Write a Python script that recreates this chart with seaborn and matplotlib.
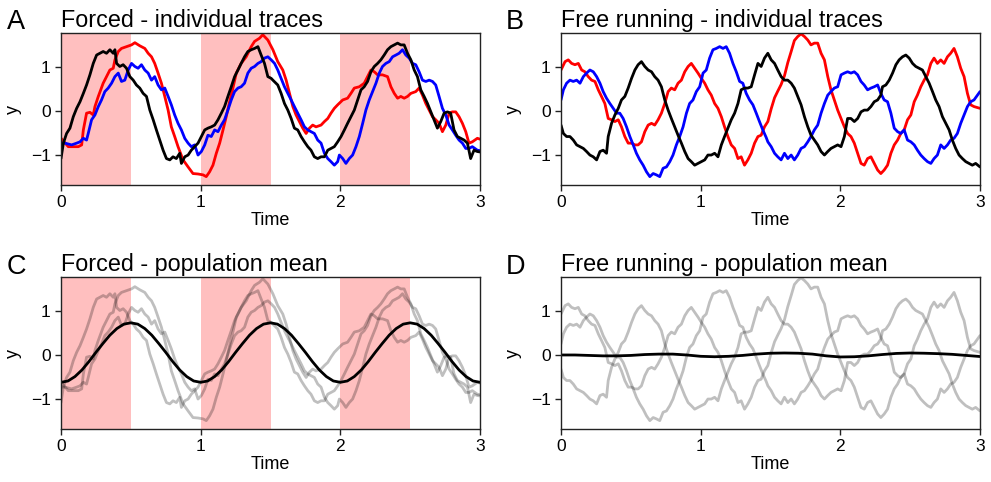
import numpy as np
import pandas as pd
import matplotlib
matplotlib.use("Agg")
import matplotlib.pyplot as plt
import seaborn as sns

# ---------------- data ----------------
forced_red_t = [0, 0.052, 0.124, 0.148, 0.16, 0.183, 0.207, 0.231, 0.243, 0.267, 0.302, 0.326, 0.35, 0.374,
                0.386, 0.41, 0.433, 0.469, 0.505, 0.529, 0.564, 0.6, 0.624, 0.648, 0.671, 0.695, 0.719, 0.743,
                0.767, 0.79, 0.814, 0.838, 0.874, 0.91, 0.945, 0.981, 1.017, 1.04, 1.064, 1.088, 1.112, 1.136,
                1.16, 1.183, 1.207, 1.231, 1.255, 1.29, 1.326, 1.362, 1.386, 1.421, 1.445, 1.481, 1.517, 1.552,
                1.588, 1.612, 1.636, 1.66, 1.683, 1.707, 1.731, 1.755, 1.779, 1.802, 1.826, 1.862, 1.886, 1.91,
                1.933, 1.957, 1.981, 2.017, 2.052, 2.076, 2.1, 2.136, 2.171, 2.195, 2.219, 2.243, 2.267, 2.302,
                2.338, 2.362, 2.386, 2.41, 2.433, 2.457, 2.481, 2.505, 2.54, 2.564, 2.588, 2.612, 2.636, 2.66,
                2.683, 2.707, 2.731, 2.755, 2.779, 2.802, 2.826, 2.85, 2.874, 2.898, 2.921, 2.945, 2.981, 3.0]
forced_red_y = [-0.62, -0.81, -0.81, -0.77, -0.43, -0.05, -0.03, -0.09, 0.1, 0.33, 0.63, 0.78, 0.93, 0.97,
                1.16, 1.35, 1.42, 1.46, 1.5, 1.55, 1.48, 1.42, 1.31, 1.23, 1.08, 0.86, 0.63, 0.33,
                0.02, -0.36, -0.58, -0.81, -1.11, -1.27, -1.42, -1.43, -1.45, -1.49, -1.38, -1.23, -0.96, -0.73,
                -0.43, -0.13, 0.21, 0.52, 0.86, 1.08, 1.23, 1.46, 1.58, 1.65, 1.73, 1.61, 1.39, 1.12,
                0.93, 0.7, 0.4, 0.1, -0.09, -0.24, -0.39, -0.51, -0.39, -0.32, -0.36, -0.32, -0.24, -0.17,
                -0.05, 0.06, 0.14, 0.25, 0.29, 0.4, 0.52, 0.55, 0.63, 0.78, 0.93, 0.89, 0.82, 0.82,
                0.78, 0.55, 0.4, 0.29, 0.33, 0.29, 0.33, 0.4, 0.44, 0.52, 0.36, 0.17, 0.02, -0.13,
                -0.2, -0.28, -0.47, -0.32, -0.05, -0.02, -0.02, -0.13, -0.28, -0.47, -0.73, -0.7, -0.62, -0.64]

forced_blue_t = [0, 0.029, 0.076, 0.112, 0.136, 0.16, 0.183, 0.195, 0.219, 0.243, 0.267, 0.29, 0.314, 0.338,
                 0.362, 0.386, 0.41, 0.433, 0.457, 0.481, 0.505, 0.529, 0.552, 0.576, 0.6, 0.624, 0.648, 0.671,
                 0.695, 0.719, 0.743, 0.767, 0.79, 0.814, 0.838, 0.862, 0.886, 0.91, 0.933, 0.957, 0.981, 1.005,
                 1.029, 1.052, 1.076, 1.1, 1.124, 1.148, 1.171, 1.195, 1.219, 1.243, 1.267, 1.29, 1.314, 1.338,
                 1.362, 1.386, 1.41, 1.433, 1.457, 1.481, 1.505, 1.529, 1.552, 1.576, 1.6, 1.624, 1.648, 1.671,
                 1.695, 1.719, 1.743, 1.767, 1.79, 1.814, 1.838, 1.862, 1.886, 1.91, 1.933, 1.957, 1.981, 1.993,
                 2.017, 2.04, 2.064, 2.088, 2.112, 2.136, 2.16, 2.183, 2.207, 2.231, 2.255, 2.279, 2.302, 2.326,
                 2.35, 2.374, 2.398, 2.421, 2.445, 2.469, 2.493, 2.517, 2.54, 2.564, 2.588, 2.612, 2.636, 2.66,
                 2.683, 2.707, 2.731, 2.755, 2.779, 2.802, 2.826, 2.85, 2.874, 2.898, 2.921, 2.945, 2.981, 3.0]
forced_blue_y = [-0.73, -0.73, -0.77, -0.73, -0.7, -0.62, -0.66, -0.51, -0.2, -0.09, 0.1, 0.25, 0.44, 0.52,
                 0.63, 0.78, 0.86, 0.67, 0.7, 0.93, 1.08, 1.01, 0.97, 1.05, 0.93, 0.86, 0.7, 0.78,
                 0.59, 0.48, 0.52, 0.33, 0.14, -0.09, -0.28, -0.43, -0.62, -0.73, -0.81, -0.77, -1.0, -0.92,
                 -0.77, -0.55, -0.58, -0.43, -0.47, -0.32, -0.2, 0.02, 0.25, 0.44, 0.52, 0.55, 0.63, 0.86,
                 0.97, 1.01, 1.08, 1.12, 1.2, 1.23, 1.16, 1.08, 0.93, 0.74, 0.55, 0.4, 0.25, 0.1,
                 -0.05, -0.2, -0.36, -0.43, -0.47, -0.51, -0.66, -0.73, -0.96, -1.08, -1.15, -1.23, -1.15, -1.0,
                 -1.08, -1.19, -1.08, -1.0, -0.81, -0.58, -0.28, 0.02, 0.25, 0.44, 0.63, 0.86, 1.01, 1.08,
                 1.12, 1.23, 1.27, 1.31, 1.39, 1.27, 1.2, 1.08, 1.05, 0.89, 0.7, 0.67, 0.7, 0.67,
                 0.59, 0.33, 0.06, -0.09, -0.32, -0.43, -0.55, -0.66, -0.73, -0.85, -0.85, -0.81, -0.89, -0.9]

forced_black_t = [0, 0.017, 0.04, 0.064, 0.088, 0.112, 0.136, 0.16, 0.183, 0.207, 0.231, 0.255, 0.279, 0.302,
                  0.326, 0.35, 0.374, 0.386, 0.398, 0.421, 0.445, 0.469, 0.493, 0.517, 0.54, 0.564, 0.588, 0.612,
                  0.636, 0.66, 0.683, 0.707, 0.731, 0.755, 0.779, 0.802, 0.826, 0.85, 0.862, 0.886, 0.91, 0.933,
                  0.957, 0.981, 1.005, 1.029, 1.052, 1.076, 1.1, 1.124, 1.148, 1.171, 1.195, 1.219, 1.243, 1.267,
                  1.29, 1.314, 1.338, 1.362, 1.386, 1.41, 1.433, 1.457, 1.481, 1.505, 1.517, 1.552, 1.576, 1.6,
                  1.624, 1.648, 1.671, 1.695, 1.719, 1.743, 1.767, 1.79, 1.814, 1.838, 1.862, 1.886, 1.91, 1.933,
                  1.957, 1.981, 2.005, 2.029, 2.052, 2.076, 2.1, 2.124, 2.148, 2.171, 2.195, 2.219, 2.243, 2.267,
                  2.29, 2.314, 2.338, 2.362, 2.386, 2.41, 2.433, 2.457, 2.481, 2.505, 2.529, 2.552, 2.576, 2.6,
                  2.624, 2.648, 2.671, 2.695, 2.719, 2.743, 2.767, 2.79, 2.814, 2.838, 2.862, 2.886, 2.91, 2.933,
                  2.957, 2.981, 3.0]
forced_black_y = [-1.08, -0.73, -0.51, -0.39, -0.13, 0.06, 0.21, 0.4, 0.59, 0.82, 1.08, 1.27, 1.31, 1.35,
                  1.31, 1.39, 1.31, 1.39, 1.08, 1.01, 1.05, 0.97, 0.78, 0.7, 0.59, 0.52, 0.4, 0.33,
                  0.02, -0.2, -0.43, -0.66, -0.89, -1.08, -1.11, -1.04, -1.08, -0.96, -1.19, -1.04, -1.0, -0.89,
                  -0.81, -0.73, -0.58, -0.43, -0.39, -0.36, -0.32, -0.2, -0.05, 0.1, 0.33, 0.55, 0.78, 0.93,
                  1.08, 1.23, 1.35, 1.39, 1.42, 1.46, 1.27, 1.08, 0.78, 0.74, 0.7, 0.59, 0.4, 0.17,
                  0.02, -0.17, -0.39, -0.43, -0.58, -0.7, -0.81, -0.89, -1.04, -1.08, -1.04, -1.04, -0.89, -0.85,
                  -0.81, -0.7, -0.58, -0.43, -0.28, -0.13, 0.02, 0.25, 0.48, 0.55, 0.67, 0.89, 1.01, 1.08,
                  1.16, 1.27, 1.39, 1.46, 1.5, 1.54, 1.5, 1.5, 1.31, 1.16, 0.93, 0.78, 0.48, 0.33,
                  0.17, -0.02, -0.2, -0.39, -0.24, -0.05, -0.02, -0.05, -0.43, -0.58, -0.62, -0.66, -0.73, -1.08,
                  -0.89, -0.92, -0.93]

free_red_t = [0, 0.029, 0.052, 0.076, 0.1, 0.124, 0.148, 0.171, 0.195, 0.219, 0.243, 0.267, 0.29, 0.314,
              0.338, 0.362, 0.386, 0.41, 0.433, 0.457, 0.481, 0.505, 0.529, 0.552, 0.576, 0.6, 0.624, 0.648,
              0.671, 0.695, 0.719, 0.743, 0.767, 0.79, 0.814, 0.838, 0.862, 0.886, 0.91, 0.933, 0.957, 0.981,
              1.005, 1.029, 1.052, 1.076, 1.1, 1.124, 1.148, 1.171, 1.195, 1.219, 1.243, 1.267, 1.29, 1.314,
              1.338, 1.362, 1.386, 1.41, 1.433, 1.457, 1.481, 1.505, 1.529, 1.552, 1.576, 1.6, 1.624, 1.648,
              1.671, 1.695, 1.719, 1.743, 1.767, 1.79, 1.814, 1.838, 1.862, 1.886, 1.91, 1.933, 1.957, 1.981,
              2.005, 2.029, 2.052, 2.076, 2.1, 2.124, 2.148, 2.171, 2.195, 2.219, 2.243, 2.267, 2.29, 2.314,
              2.338, 2.362, 2.386, 2.41, 2.433, 2.457, 2.481, 2.505, 2.529, 2.552, 2.576, 2.6, 2.624, 2.648,
              2.671, 2.695, 2.719, 2.743, 2.767, 2.79, 2.814, 2.838, 2.862, 2.886, 2.91, 2.933, 2.957, 3.0]
free_red_y = [0.93, 1.12, 1.16, 1.08, 1.05, 1.08, 0.93, 0.89, 0.78, 0.7, 0.67, 0.48, 0.33, 0.17,
              -0.17, -0.2, -0.24, -0.2, -0.36, -0.58, -0.73, -0.73, -0.77, -0.77, -0.7, -0.47, -0.32, -0.28,
              -0.32, -0.2, -0.05, 0.17, 0.44, 0.52, 0.48, 0.63, 0.7, 0.89, 1.01, 1.08, 0.97, 0.86,
              0.74, 0.63, 0.48, 0.36, 0.17, 0.06, -0.13, -0.36, -0.58, -0.77, -0.85, -1.08, -1.04, -1.23,
              -1.11, -0.96, -0.73, -0.58, -0.55, -0.36, -0.24, 0.05, 0.3, 0.45, 0.6, 0.8, 1.1, 1.35,
              1.6, 1.69, 1.75, 1.69, 1.61, 1.5, 1.54, 1.54, 1.31, 1.16, 0.78, 0.48, 0.25, 0.02,
              -0.17, -0.36, -0.51, -0.58, -0.73, -0.96, -1.19, -1.23, -1.08, -1.04, -1.19, -1.34, -1.42, -1.34,
              -1.23, -0.96, -0.77, -0.66, -0.51, -0.43, -0.2, -0.09, 0.21, 0.36, 0.55, 0.7, 0.82, 1.08,
              1.2, 1.08, 1.16, 1.08, 1.23, 1.31, 1.42, 1.23, 0.97, 0.78, 0.4, 0.14, 0.1, 0.06]

free_blue_t = [0, 0.017, 0.04, 0.064, 0.088, 0.112, 0.136, 0.16, 0.183, 0.207, 0.231, 0.255, 0.279, 0.302,
               0.326, 0.35, 0.374, 0.398, 0.421, 0.445, 0.469, 0.493, 0.517, 0.54, 0.564, 0.588, 0.612, 0.636,
               0.66, 0.683, 0.707, 0.731, 0.755, 0.779, 0.802, 0.826, 0.85, 0.874, 0.898, 0.921, 0.945, 0.969,
               0.993, 1.017, 1.04, 1.064, 1.088, 1.112, 1.136, 1.16, 1.183, 1.207, 1.231, 1.255, 1.279, 1.302,
               1.326, 1.35, 1.374, 1.398, 1.421, 1.445, 1.469, 1.481, 1.505, 1.529, 1.552, 1.576, 1.6, 1.624,
               1.648, 1.671, 1.695, 1.719, 1.743, 1.767, 1.79, 1.814, 1.838, 1.862, 1.886, 1.91, 1.933, 1.957,
               1.981, 2.005, 2.029, 2.052, 2.076, 2.1, 2.124, 2.148, 2.171, 2.195, 2.219, 2.243, 2.267, 2.29,
               2.314, 2.338, 2.362, 2.386, 2.41, 2.433, 2.457, 2.481, 2.505, 2.529, 2.552, 2.576, 2.6, 2.624,
               2.648, 2.671, 2.695, 2.719, 2.743, 2.767, 2.79, 2.814, 2.838, 2.862, 2.886, 2.91, 2.933, 2.957,
               3.0]
free_blue_y = [0.25, 0.48, 0.63, 0.7, 0.67, 0.7, 0.63, 0.78, 0.86, 0.93, 0.89, 0.78, 0.63, 0.44,
               0.29, 0.17, 0.06, -0.05, -0.05, -0.17, -0.36, -0.58, -0.77, -0.96, -1.11, -1.23, -1.38, -1.49,
               -1.42, -1.45, -1.49, -1.3, -1.27, -1.15, -1.0, -0.77, -0.58, -0.36, -0.05, 0.17, 0.25, 0.44,
               0.55, 0.86, 0.93, 1.2, 1.39, 1.42, 1.46, 1.42, 1.46, 1.31, 1.08, 0.89, 0.67, 0.63,
               0.4, 0.25, 0.14, -0.05, -0.24, -0.43, -0.6, -0.7, -0.81, -0.96, -1.04, -1.11, -0.96, -1.08,
               -1.0, -1.11, -1.0, -0.85, -0.81, -0.7, -0.58, -0.43, -0.32, -0.05, 0.17, 0.36, 0.44, 0.52,
               0.55, 0.82, 0.86, 0.89, 0.86, 0.89, 0.82, 0.67, 0.59, 0.48, 0.52, 0.55, 0.59, 0.4,
               0.25, 0.21, -0.05, -0.39, -0.47, -0.51, -0.43, -0.66, -0.7, -0.77, -0.89, -1.0, -1.08, -1.15,
               -1.19, -1.08, -1.0, -0.77, -0.85, -0.77, -0.66, -0.62, -0.51, -0.28, -0.09, 0.1, 0.21, 0.25,
               0.44]

free_black_t = [0, 0.017, 0.04, 0.064, 0.088, 0.112, 0.136, 0.16, 0.183, 0.207, 0.231, 0.255, 0.279, 0.302,
                0.326, 0.338, 0.362, 0.386, 0.41, 0.433, 0.457, 0.481, 0.505, 0.529, 0.552, 0.576, 0.6, 0.624,
                0.648, 0.671, 0.695, 0.719, 0.743, 0.767, 0.79, 0.814, 0.838, 0.862, 0.886, 0.91, 0.933, 0.957,
                0.981, 1.005, 1.029, 1.052, 1.076, 1.1, 1.124, 1.148, 1.171, 1.195, 1.219, 1.243, 1.267, 1.29,
                1.314, 1.338, 1.362, 1.386, 1.41, 1.433, 1.457, 1.481, 1.505, 1.529, 1.552, 1.576, 1.6, 1.624,
                1.648, 1.671, 1.695, 1.719, 1.743, 1.767, 1.79, 1.814, 1.838, 1.862, 1.886, 1.91, 1.933, 1.957,
                1.981, 2.005, 2.029, 2.052, 2.076, 2.1, 2.124, 2.148, 2.171, 2.195, 2.219, 2.243, 2.267, 2.29,
                2.302, 2.326, 2.35, 2.374, 2.398, 2.421, 2.445, 2.469, 2.493, 2.517, 2.54, 2.564, 2.588, 2.612,
                2.636, 2.66, 2.683, 2.707, 2.731, 2.755, 2.779, 2.802, 2.826, 2.85, 2.874, 2.898, 2.921, 2.945,
                2.969, 3.0]
free_black_y = [-0.32, -0.51, -0.58, -0.58, -0.66, -0.77, -0.81, -0.85, -0.92, -1.0, -1.04, -1.11, -0.92, -0.89,
                -0.96, -0.58, -0.28, -0.09, 0.06, 0.25, 0.33, 0.52, 0.74, 0.93, 1.05, 1.12, 1.01, 0.93,
                0.89, 0.78, 0.7, 0.55, 0.25, 0.02, -0.17, -0.36, -0.55, -0.73, -0.92, -1.08, -1.15, -1.23,
                -1.19, -1.15, -1.11, -1.0, -1.0, -0.96, -1.04, -0.77, -0.58, -0.39, -0.2, -0.05, 0.17, 0.48,
                0.52, 0.52, 0.55, 0.82, 1.08, 1.01, 1.2, 1.31, 1.16, 1.08, 0.93, 0.78, 0.7, 0.7,
                0.63, 0.52, 0.33, 0.14, -0.13, -0.36, -0.55, -0.66, -0.77, -0.92, -1.0, -0.92, -0.85, -0.81,
                -0.77, -0.81, -0.58, -0.17, -0.17, -0.24, -0.17, -0.02, 0.02, 0.02, 0.1, 0.21, 0.25, 0.36,
                0.55, 0.59, 0.7, 0.86, 1.05, 1.16, 1.23, 1.27, 1.2, 1.08, 1.01, 0.97, 0.93, 0.78,
                0.63, 0.44, 0.25, 0.1, -0.13, -0.28, -0.43, -0.66, -0.85, -1.0, -1.08, -1.15, -1.19, -1.23,
                -1.19, -1.27]

mean_forced_t = [round(0.05 * i, 2) for i in range(61)]
mean_forced_y = [-0.62, -0.59, -0.49, -0.34, -0.15, 0.06, 0.26, 0.45, 0.6, 0.7,
                 0.73, 0.7, 0.6, 0.45, 0.26, 0.06, -0.15, -0.34, -0.49, -0.59,
                 -0.62, -0.59, -0.49, -0.34, -0.15, 0.06, 0.26, 0.45, 0.6, 0.7,
                 0.73, 0.7, 0.6, 0.45, 0.26, 0.06, -0.15, -0.34, -0.49, -0.59,
                 -0.62, -0.59, -0.49, -0.34, -0.15, 0.06, 0.26, 0.45, 0.6, 0.7,
                 0.73, 0.7, 0.6, 0.45, 0.26, 0.06, -0.15, -0.34, -0.49, -0.59,
                 -0.62]

mean_free_t = [round(0.1 * i, 1) for i in range(31)]
mean_free_y = [0.0, 0.0, -0.01, -0.02, -0.02, -0.01, 0.01, 0.02, 0.02, 0.0,
               -0.03, -0.04, -0.03, -0.01, 0.02, 0.04, 0.045, 0.04, 0.02, -0.02,
               -0.045, -0.04, -0.02, 0.01, 0.035, 0.045, 0.04, 0.03, 0.015, -0.01,
               -0.035]

light_on = [0, 1, 2]
light_off = [0.5, 1.5, 2.5]

trace_colors = {"red": "#ff0000", "blue": "#0000ff", "black": "#000000"}

titles = ["Forced - individual traces", "Free running - individual traces",
          "Forced - population mean", "Free running - population mean"]
panel_letters = ["A", "B", "C", "D"]


def make_df(traces):
    frames = []
    for name, t, y in traces:
        frames.append(pd.DataFrame({"Time": t, "y": y, "trace": name}))
    return pd.concat(frames, ignore_index=True)


forced_df = make_df([("red", forced_red_t, forced_red_y),
                     ("blue", forced_blue_t, forced_blue_y),
                     ("black", forced_black_t, forced_black_y)])
free_df = make_df([("red", free_red_t, free_red_y),
                   ("blue", free_blue_t, free_blue_y),
                   ("black", free_black_t, free_black_y)])
mean_forced_df = pd.DataFrame({"Time": mean_forced_t, "y": mean_forced_y})
mean_free_df = pd.DataFrame({"Time": mean_free_t, "y": mean_free_y})

# ---------------- figure ----------------
sns.set_style("ticks")
plt.rcParams["font.family"] = ["Liberation Sans", "DejaVu Sans"]
plt.rcParams["axes.edgecolor"] = "#222222"
plt.rcParams["axes.linewidth"] = 1.0
for key in ("text.color", "axes.labelcolor", "xtick.color", "ytick.color"):
    plt.rcParams[key] = "black"

W, H = 991, 482
fig = plt.figure(figsize=(W / 100, H / 100), dpi=100)


def ax_at(x0, y0, x1, y1):
    return fig.add_axes([x0 / W, 1 - y1 / H, (x1 - x0) / W, (y1 - y0) / H])


axA = ax_at(61, 33, 480, 185)
axB = ax_at(561, 33, 980, 185)
axC = ax_at(61, 277, 480, 429)
axD = ax_at(561, 277, 980, 429)
axes = [axA, axB, axC, axD]

LW = 2.0
for ax in (axA, axC):
    for a, b in zip(light_on, light_off):
        ax.axvspan(a, b, color="#ff0000", alpha=0.25, lw=0, zorder=0)

sns.lineplot(data=forced_df, x="Time", y="y", hue="trace", palette=trace_colors,
             estimator=None, sort=False, lw=LW, legend=False, ax=axA)
sns.lineplot(data=free_df, x="Time", y="y", hue="trace", palette=trace_colors,
             estimator=None, sort=False, lw=LW, legend=False, ax=axB)

sns.lineplot(data=forced_df, x="Time", y="y", units="trace", estimator=None, sort=False,
             color="#000000", alpha=0.25, lw=LW, legend=False, ax=axC)
sns.lineplot(data=mean_forced_df, x="Time", y="y", color="black", lw=LW, ax=axC)

sns.lineplot(data=free_df, x="Time", y="y", units="trace", estimator=None, sort=False,
             color="#000000", alpha=0.25, lw=LW, legend=False, ax=axD)
sns.lineplot(data=mean_free_df, x="Time", y="y", color="black", lw=LW, ax=axD)

for ax, title, letter in zip(axes, titles, panel_letters):
    ax.set_xlim(0, 3)
    ax.set_ylim(-1.68, 1.77)
    ax.set_xticks([0, 1, 2, 3])
    ax.set_yticks([-1, 0, 1])
    ax.tick_params(labelsize=12.5, length=4.5, width=1, color="#222222", pad=3)
    ax.set_xlabel("Time", fontsize=13, labelpad=1)
    ax.set_ylabel("y", fontsize=13, labelpad=6)
    ax.set_title(title, loc="left", fontsize=16.8, pad=4)
    for s in ax.spines.values():
        s.set_visible(True)

fig.text(7 / W, 1 - 29 / H, "A", fontsize=19.5, va="baseline", ha="left")
fig.text(506 / W, 1 - 29 / H, "B", fontsize=19.5, va="baseline", ha="left")
fig.text(7 / W, 1 - 274 / H, "C", fontsize=19.5, va="baseline", ha="left")
fig.text(506 / W, 1 - 274 / H, "D", fontsize=19.5, va="baseline", ha="left")

fig.savefig("out.png", dpi=100)
